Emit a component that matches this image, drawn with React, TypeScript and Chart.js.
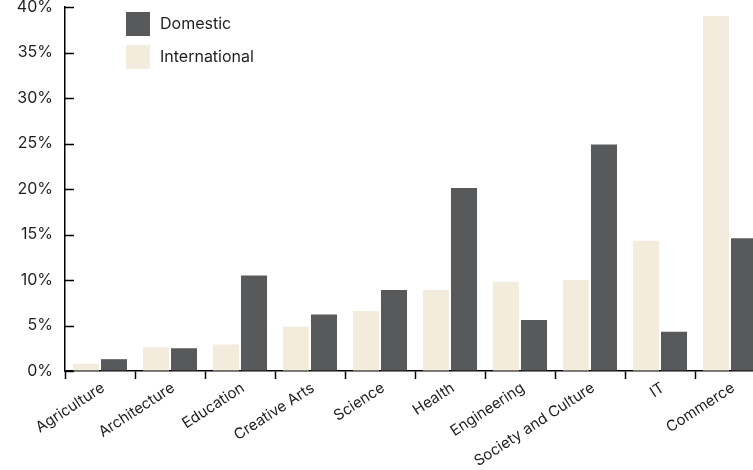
import React, { useEffect, useRef } from "react";
import { Chart, registerables } from "chart.js";

Chart.register(...registerables);

// Share of enrolments by field of education
const fields = [
  "Agriculture",
  "Architecture",
  "Education",
  "Creative Arts",
  "Science",
  "Health",
  "Engineering",
  "Society and Culture",
  "IT",
  "Commerce",
];
const internationalShare = [0.8, 2.6, 2.9, 4.85, 6.6, 8.9, 9.8, 10.0, 14.3, 39.0];
const domesticShare = [1.3, 2.5, 10.5, 6.2, 8.9, 20.1, 5.6, 24.9, 4.3, 14.6];
const yTicks = [0, 5, 10, 15, 20, 25, 30, 35, 40];

const DOMESTIC = "#58595B";
const INTERNATIONAL = "#F3EBDC";
const INK = "#1e1e1e";
const FONT = "Inter, 'Noto Sans', sans-serif";

// Short inward tick marks on the value axis
const innerTicks = {
  id: "innerTicks",
  afterDraw(chart: any) {
    const y = chart.scales.y;
    const left = chart.chartArea.left;
    const ctx = chart.ctx;
    ctx.save();
    ctx.strokeStyle = "#000";
    ctx.lineWidth = 1.5;
    y.ticks.forEach((t: any) => {
      const py = Math.round(y.getPixelForValue(t.value)) + 0.5;
      ctx.beginPath();
      ctx.moveTo(left, py);
      ctx.lineTo(left + 9, py);
      ctx.stroke();
    });
    ctx.restore();
  },
};

// Vertical legend inside the plot, Domestic listed first
const stackedLegend = {
  id: "stackedLegend",
  afterDraw(chart: any) {
    const ctx = chart.ctx;
    const items = [...chart.data.datasets].reverse();
    ctx.save();
    ctx.font = `16px ${FONT}`;
    ctx.textBaseline = "middle";
    ctx.textAlign = "left";
    items.forEach((ds: any, i: number) => {
      const top = 12 + i * 33;
      ctx.fillStyle = ds.backgroundColor;
      ctx.fillRect(126, top, 24, 24);
      ctx.fillStyle = INK;
      ctx.fillText(ds.label, 160, top + 12);
    });
    ctx.restore();
  },
};

export default function App() {
  const canvasRef = useRef<HTMLCanvasElement | null>(null);

  useEffect(() => {
    if (!canvasRef.current) return;
    const chart = new Chart(canvasRef.current, {
      type: "bar",
      data: {
        labels: fields,
        datasets: [
          {
            label: "International",
            data: internationalShare,
            backgroundColor: INTERNATIONAL,
            categoryPercentage: 0.8,
            barPercentage: 0.93,
          },
          {
            label: "Domestic",
            data: domesticShare,
            backgroundColor: DOMESTIC,
            categoryPercentage: 0.8,
            barPercentage: 0.93,
          },
        ],
      },
      options: {
        animation: false,
        responsive: true,
        maintainAspectRatio: false,
        layout: { padding: { top: 7, left: 0, right: 0, bottom: 0 } },
        plugins: {
          legend: { display: false },
          tooltip: { enabled: false },
        },
        scales: {
          x: {
            grid: {
              display: true,
              drawOnChartArea: false,
              drawTicks: true,
              tickLength: 8,
              tickColor: "#000",
              tickWidth: 1.5,
            },
            border: { display: true, color: "#000", width: 1.5 },
            ticks: {
              color: INK,
              font: { family: FONT, size: 15 },
              maxRotation: 33,
              minRotation: 33,
              autoSkip: false,
              padding: 0,
              labelOffset: 3,
            },
            afterFit(scale: any) {
              scale.height = 99;
              scale.paddingLeft = 0;
              scale.paddingRight = 0;
            },
          },
          y: {
            min: 0,
            max: 40,
            afterBuildTicks(scale: any) {
              scale.ticks = yTicks.map((v) => ({ value: v }));
            },
            grid: { display: true, drawOnChartArea: false, drawTicks: false },
            border: { display: true, color: "#000", width: 1.5 },
            ticks: {
              color: INK,
              font: { family: FONT, size: 16 },
              padding: 12,
              callback: (v: any) => `${v}%`,
            },
            afterFit(scale: any) {
              scale.width = 65;
              scale.paddingTop = 0;
              scale.paddingBottom = 0;
            },
          },
        },
      },
      plugins: [innerTicks, stackedLegend],
    });
    return () => chart.destroy();
  }, []);

  return (
    <div
      style={{
        position: "fixed",
        left: 0,
        top: 0,
        width: 753,
        height: 470,
        overflow: "hidden",
        background: "#fff",
      }}
    >
      <div style={{ position: "relative", width: 765, height: 470 }}>
        <canvas ref={canvasRef} />
      </div>
    </div>
  );
}
